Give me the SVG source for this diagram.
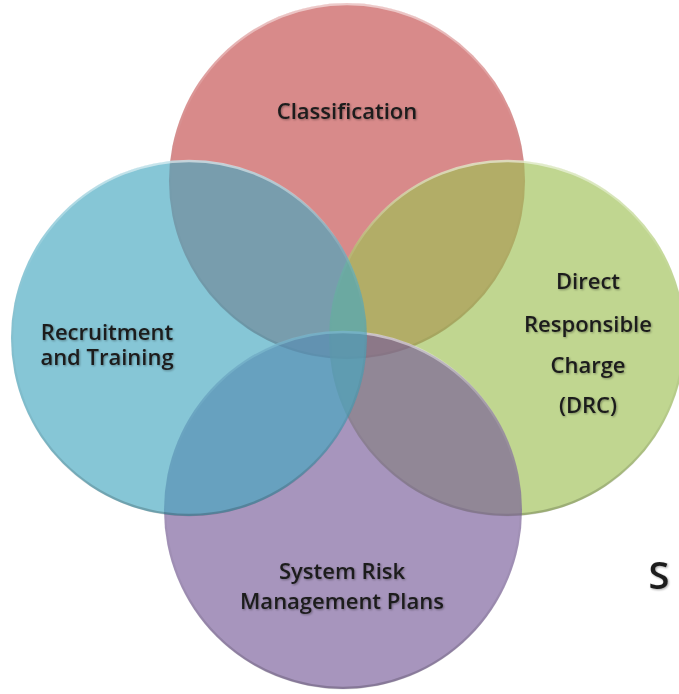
<svg xmlns="http://www.w3.org/2000/svg" width="679" height="694" viewBox="0 0 679 694">
<defs>
<filter id="ts" x="-10%" y="-30%" width="120%" height="160%">
<feGaussianBlur in="SourceAlpha" stdDeviation="1.2"/>
<feOffset dx="0.5" dy="1" result="b"/>
<feComponentTransfer><feFuncA type="linear" slope="0.35"/></feComponentTransfer>
<feMerge><feMergeNode/><feMergeNode in="SourceGraphic"/></feMerge>
</filter>
<linearGradient id="rim" x1="0" y1="0" x2="0" y2="1">
<stop offset="0" stop-color="#ffffff" stop-opacity="0.55"/>
<stop offset="0.25" stop-color="#ffffff" stop-opacity="0.1"/>
<stop offset="0.7" stop-color="#000000" stop-opacity="0.05"/>
<stop offset="1" stop-color="#000000" stop-opacity="0.2"/>
</linearGradient>
</defs>
<style>
.c{fill-opacity:0.65;}
.rim{fill:none;stroke:url(#rim);stroke-width:2.5;}
.t{font-family:"Open Sans","Liberation Sans",sans-serif;font-size:22px;font-weight:600;fill:#1c1c1c;text-anchor:middle;filter:url(#ts);}
</style>
<rect width="679" height="694" fill="#ffffff"/>
<g id="classification">
<circle class="c" cx="347" cy="181" r="178" fill="#c34b4b"/>
<circle class="rim" cx="347" cy="181" r="177"/>
<text class="t" x="347" y="119">Classification</text>
</g>
<g id="drc">
<circle class="c" cx="507" cy="338" r="178" fill="#9ec055"/>
<circle class="rim" cx="507" cy="338" r="177"/>
</g>
<g id="srmp">
<circle class="c" cx="343" cy="510" r="179" fill="#785c9a"/>
<circle class="rim" cx="343" cy="510" r="178"/>
</g>
<g id="recruitment">
<circle class="c" cx="189" cy="338" r="178" fill="#45a8c0"/>
<circle class="rim" cx="189" cy="338" r="177"/>
</g>
<g id="connectors"></g>
<g id="labels">
<text class="t"><tspan x="107" y="340">Recruitment</tspan><tspan x="107" y="365">and Training</tspan></text>
<text class="t"><tspan x="588" y="289">Direct</tspan><tspan x="588" y="332">Responsible</tspan><tspan x="588" y="373">Charge</tspan><tspan x="588" y="413">(DRC)</tspan></text>
<text class="t"><tspan x="342" y="579">System Risk</tspan><tspan x="342" y="609">Management Plans</tspan></text>
<text class="t" x="659" y="589" style="font-size:38px">S</text>
</g>
</svg>
